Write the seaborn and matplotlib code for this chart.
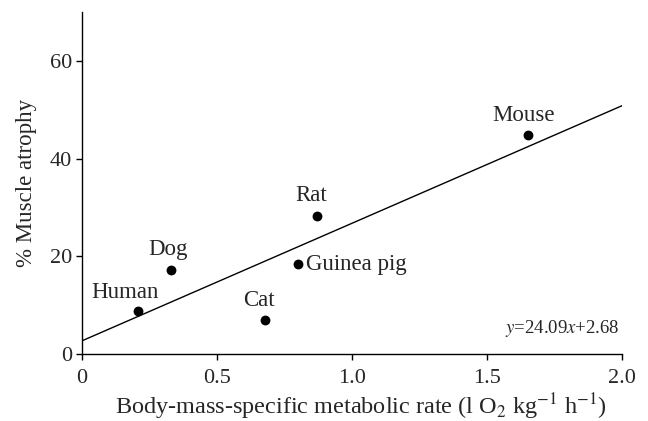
import numpy as np
import pandas as pd
import matplotlib
matplotlib.use("Agg")
import matplotlib.pyplot as plt
import seaborn as sns

# data
species = ["Human", "Dog", "Cat", "Guinea pig", "Rat", "Mouse"]
metabolic_rate = [0.21, 0.33, 0.68, 0.80, 0.87, 1.65]
atrophy = [8.8, 17.3, 6.9, 18.4, 28.3, 44.8]
slope, intercept = 24.09, 2.68
x_ticks = [0, 0.5, 1.0, 1.5, 2.0]
x_ticklabels = ["0", "0.5", "1.0", "1.5", "2.0"]
y_ticks = [0, 20, 40, 60]

# label offsets (points) and alignment for each species
label_style = {
    "Human":      ((-10, 6), "center", "bottom"),
    "Dog":        ((-2, 7), "center", "bottom"),
    "Cat":        ((-5, 7), "center", "bottom"),
    "Guinea pig": ((6, 0), "left", "center"),
    "Rat":        ((-4, 7), "center", "bottom"),
    "Mouse":      ((-3, 7), "center", "bottom"),
}

df = pd.DataFrame({"species": species, "rate": metabolic_rate, "atrophy": atrophy})
fit = pd.DataFrame({"rate": [0.0, 2.0]})
fit["atrophy"] = slope * fit["rate"] + intercept

sns.set_style("ticks")
plt.rcParams["font.family"] = ["Liberation Serif", "DejaVu Serif"]
plt.rcParams["mathtext.fontset"] = "stix"

fig = plt.figure(figsize=(6.48, 4.21), dpi=100)
ax = fig.add_axes([0.126, 0.159, 0.834, 0.812])

sns.lineplot(data=fit, x="rate", y="atrophy", color="black", linewidth=1.0, ax=ax)
sns.scatterplot(data=df, x="rate", y="atrophy", color="black", s=50,
                edgecolor="black", linewidth=0, ax=ax, zorder=3)

for _, row in df.iterrows():
    offset, ha, va = label_style[row["species"]]
    ax.annotate(row["species"], (row["rate"], row["atrophy"]), xytext=offset,
                textcoords="offset points", ha=ha, va=va, fontsize=16.5)

ax.text(1.99, 3.0, r"$\it{y}$=24.09$\it{x}$+2.68", ha="right", va="bottom", fontsize=13.5)

ax.set_xlim(0, 2.0)
ax.set_ylim(0, 70)
ax.set_xticks(x_ticks)
ax.set_xticklabels(x_ticklabels)
ax.set_yticks(y_ticks)
ax.tick_params(labelsize=16, length=4, width=1, color="black", direction="out")
ax.tick_params(axis="x", pad=7)
ax.tick_params(axis="y", pad=3)
ax.set_xlabel(r"Body-mass-specific metabolic rate (l O$_2$ kg$^{-1}$ h$^{-1}$)", fontsize=17.5,
              labelpad=2)
ax.xaxis.label.set_x(0.517)
ax.set_ylabel("% Muscle atrophy", fontsize=16.5, labelpad=9)
for s in ["left", "bottom"]:
    ax.spines[s].set_linewidth(1.0)
    ax.spines[s].set_color("black")
sns.despine(ax=ax)

fig.savefig("out.png", dpi=100)
